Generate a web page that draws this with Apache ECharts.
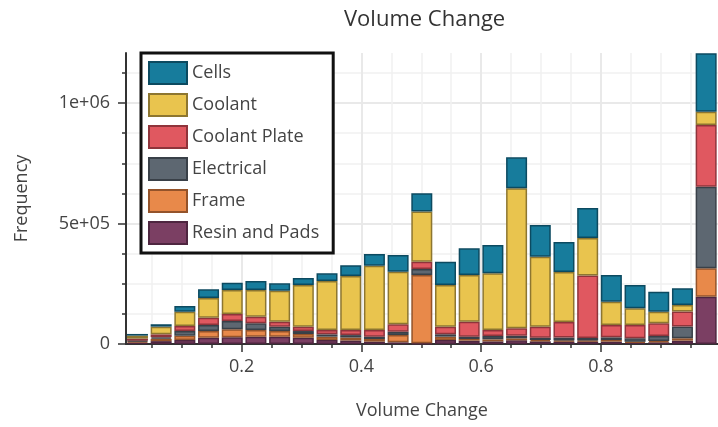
<!DOCTYPE html>
<html>
<head>
<meta charset="utf-8">
<style>
  html, body { margin: 0; padding: 0; background: #fff; }
  #chart { width: 718px; height: 427px; }
</style>
<script src="https://cdn.jsdelivr.net/npm/echarts@6/dist/echarts.min.js"></script>
</head>
<body>
<div id="chart"></div>
<script>
// Histogram bin midpoints (volume change fraction)
const binCenters = [0.026, 0.066, 0.106, 0.146, 0.186, 0.226, 0.265, 0.305, 0.345, 0.385,
                    0.425, 0.465, 0.505, 0.545, 0.585, 0.625, 0.664, 0.704, 0.744, 0.784,
                    0.824, 0.864, 0.904, 0.944, 0.984];
const BIN_WIDTH = 0.0399;

// Frequency per component in each bin
const resinAndPads = [6000, 12000, 16600, 26200, 27700, 30400, 30400, 26200, 16600, 14500,
                      9700, 7000, 3000, 16600, 13800, 11000, 15200, 11000, 10400, 10400,
                      9700, 5500, 7000, 13800, 196300];
const frame        = [4000, 10000, 18000, 27600, 33200, 27700, 23500, 15200, 13800, 12400,
                      11000, 30400, 283500, 13800, 7000, 8300, 8300, 5500, 4100, 4100,
                      7000, 4100, 5500, 10000, 117800];
const electrical   = [4000, 6000, 19500, 25000, 34600, 27700, 18000, 12400, 9700, 10000,
                      9700, 13700, 24900, 10000, 9700, 13800, 10400, 9700, 12400, 10400,
                      11000, 14000, 20700, 48400, 338600];
const coolantPlate = [8300, 12000, 21000, 30400, 29000, 27700, 20700, 18000, 18000, 20700,
                      27700, 30700, 30400, 31500, 62200, 25000, 31100, 45600, 64300, 259700,
                      51200, 55300, 52600, 62200, 256000];
const coolant      = [12400, 32000, 59000, 81700, 99600, 110600, 128600, 173000, 203000, 225000,
                      266800, 218000, 207500, 173000, 193600, 235000, 580900, 290400, 207500, 154800,
                      96800, 69100, 48400, 27700, 55300];
const cells        = [7000, 10000, 23600, 36000, 30400, 37300, 30400, 29000, 32000, 44300,
                      48400, 69000, 76300, 96800, 110700, 117500, 128600, 131500, 124500, 124500,
                      110700, 96800, 83000, 69100, 242300];

// Axis ticks
const xMinorTicks = [0.05, 0.1, 0.15, 0.2, 0.25, 0.3, 0.35, 0.4, 0.45, 0.5,
                     0.55, 0.6, 0.65, 0.7, 0.75, 0.8, 0.85, 0.9, 0.95];
const xMajorTicks = [0.2, 0.4, 0.6, 0.8];
const yMinorTicks = [0, 125000, 250000, 375000, 500000, 625000, 750000, 875000, 1000000, 1125000];
const yMajorTicks = [0, 500000, 1000000];
const yTickLabels = ['0', '5e+05', '1e+06'];

// Plot frame in pixels and the x range it covers
const PLOT = { left: 126, top: 53, width: 594, height: 291 };
const X_MIN = 0.0067, X_MAX = 0.9958;
const Y_MAX = 1207500;

// The bars sit on a band axis whose bands are the histogram bins,
// laid over the same pixel span as the continuous x scale.
const pxPerUnit = PLOT.width / (X_MAX - X_MIN);
const binsLeft = PLOT.left + (binCenters[0] - BIN_WIDTH / 2 - X_MIN) * pxPerUnit;
const binsWidth = binCenters.length * BIN_WIDTH * pxPerUnit;

const FONT = 'Open Sans';
const TEXT = '#444';
const LINE = '#333';

// Stack from bottom to top
const layers = [
  { name: 'Resin and Pads', data: resinAndPads, fill: '#7b3f63', edge: '#4e2640' },
  { name: 'Frame',          data: frame,        fill: '#e8894a', edge: '#94532a' },
  { name: 'Electrical',     data: electrical,   fill: '#5d6771', edge: '#394048' },
  { name: 'Coolant Plate',  data: coolantPlate, fill: '#e05860', edge: '#8f343b' },
  { name: 'Coolant',        data: coolant,      fill: '#e9c44e', edge: '#8d7630' },
  { name: 'Cells',          data: cells,        fill: '#177c9c', edge: '#0c4a60' }
];

const series = layers.map(l => ({
  name: l.name,
  type: 'bar',
  stack: 'total',
  xAxisIndex: 2,
  yAxisIndex: 2,
  barWidth: 21,
  data: l.data,
  itemStyle: { color: l.fill, borderColor: l.edge, borderWidth: 1.5 },
  emphasis: { disabled: true }
}));

const chart = echarts.init(document.getElementById('chart'), null, { renderer: 'canvas' });
chart.setOption({
  animation: false,
  backgroundColor: '#fff',
  textStyle: { fontFamily: FONT },
  title: {
    text: 'Volume Change',
    left: 339,
    top: 4,
    textStyle: { fontFamily: FONT, fontSize: 22, fontWeight: 'normal', color: '#333' }
  },
  grid: [
    { left: PLOT.left, top: PLOT.top, width: PLOT.width, height: PLOT.height, containLabel: false },
    { left: binsLeft, top: PLOT.top, width: binsWidth, height: PLOT.height, containLabel: false }
  ],
  legend: {
    left: 141,
    top: 53,
    orient: 'vertical',
    data: ['Cells', 'Coolant', 'Coolant Plate', 'Electrical', 'Frame', 'Resin and Pads'],
    icon: 'rect',
    itemWidth: 38,
    itemHeight: 22,
    itemGap: 8,
    padding: [8, 14, 8, 7],
    backgroundColor: '#fff',
    borderColor: '#111',
    borderWidth: 3,
    textStyle: { fontFamily: FONT, fontSize: 18, color: TEXT },
    selectedMode: false,
    z: 10
  },
  xAxis: [
    {
      gridIndex: 0,
      type: 'value',
      min: X_MIN, max: X_MAX,
      position: 'bottom',
      axisLine: { show: true, onZero: false, lineStyle: { color: LINE, width: 2 } },
      axisTick: { show: true, length: 4, customValues: xMinorTicks, lineStyle: { color: LINE, width: 1.5 } },
      axisLabel: { show: false },
      splitLine: { show: true, lineStyle: { color: '#f1f1f1', width: 1.5 } }
    },
    {
      gridIndex: 0,
      type: 'value',
      min: X_MIN, max: X_MAX,
      position: 'bottom',
      name: 'Volume Change',
      nameLocation: 'middle',
      nameGap: 58,
      nameTextStyle: { fontFamily: FONT, fontSize: 18, color: TEXT },
      axisLine: { show: false },
      axisTick: { show: true, length: 8, customValues: xMajorTicks, lineStyle: { color: LINE, width: 1.5 } },
      axisLabel: {
        show: true, customValues: xMajorTicks, margin: 14,
        fontFamily: FONT, fontSize: 18, color: TEXT,
        formatter: v => String(v)
      },
      splitLine: { show: true, lineStyle: { color: '#e6e6e6', width: 1.5 } }
    },
    {
      gridIndex: 1,
      type: 'category',
      data: binCenters.map(String),
      boundaryGap: true,
      show: false
    }
  ],
  yAxis: [
    {
      gridIndex: 0,
      type: 'value',
      min: 0, max: Y_MAX,
      position: 'left',
      axisLine: { show: true, onZero: false, lineStyle: { color: LINE, width: 2 } },
      axisTick: { show: true, length: 4, customValues: yMinorTicks, lineStyle: { color: LINE, width: 1.5 } },
      axisLabel: { show: false },
      splitLine: { show: true, lineStyle: { color: '#f1f1f1', width: 1.5 } }
    },
    {
      gridIndex: 0,
      type: 'value',
      min: 0, max: Y_MAX,
      position: 'left',
      name: 'Frequency',
      nameLocation: 'middle',
      nameGap: 95,
      nameTextStyle: { fontFamily: FONT, fontSize: 18, color: TEXT },
      axisLine: { show: false },
      axisTick: { show: true, length: 8, customValues: yMajorTicks, lineStyle: { color: LINE, width: 1.5 } },
      axisLabel: {
        show: true, customValues: yMajorTicks, margin: 16,
        fontFamily: FONT, fontSize: 18, color: TEXT,
        formatter: v => yTickLabels[yMajorTicks.indexOf(v)]
      },
      splitLine: { show: true, lineStyle: { color: '#e6e6e6', width: 1.5 } }
    },
    {
      gridIndex: 1,
      type: 'value',
      min: 0, max: Y_MAX,
      show: false
    }
  ],
  series: series
});
</script>
</body>
</html>
